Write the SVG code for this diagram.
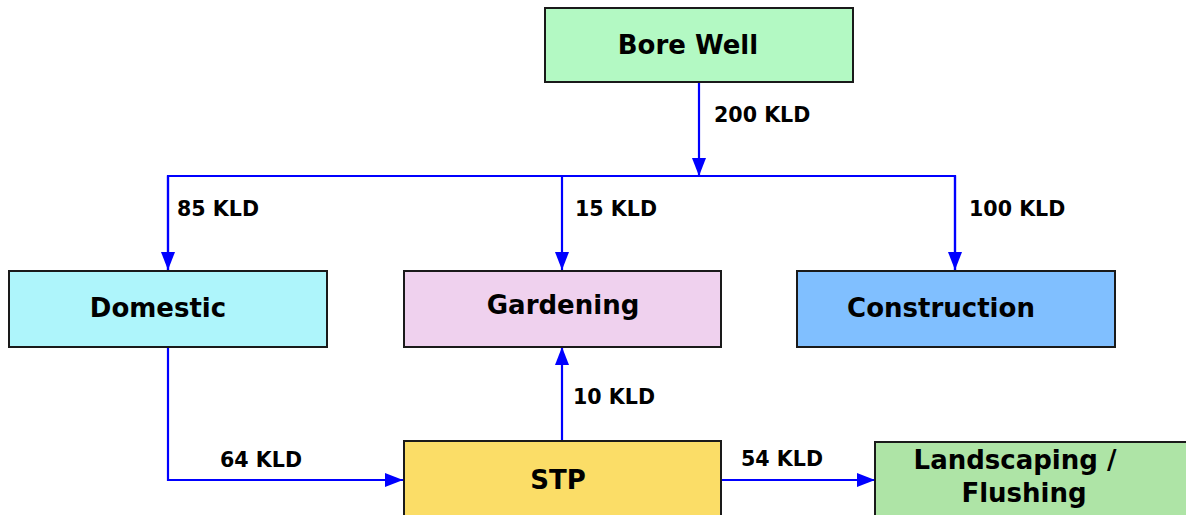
<svg xmlns="http://www.w3.org/2000/svg" width="1186" height="515" viewBox="0 0 1186 515">
<style>
.box{stroke:#1a1a1a;stroke-width:2}
.lbl{font-family:"DejaVu Sans",Verdana,sans-serif;font-weight:bold;font-size:26px;fill:#000}
.kld{font-family:"DejaVu Sans",Verdana,sans-serif;font-weight:bold;font-size:20.6px;fill:#000}
.con{fill:none;stroke:#0000ff;stroke-width:2.2}
</style>
<defs>
<marker id="ah" markerUnits="userSpaceOnUse" markerWidth="18" markerHeight="14" refX="18" refY="7" orient="auto">
<path d="M0,0 L18,7 L0,14 Z" fill="#0000ff"/>
</marker>
</defs>
<rect width="1186" height="515" fill="#ffffff"/>
<g id="connectors">
<line class="con" x1="699" y1="82" x2="699" y2="176" marker-end="url(#ah)"/>
<path class="con" d="M168,270 L168,176 L955,176 L955,270"/>
<line class="con" x1="168" y1="176" x2="168" y2="270" marker-end="url(#ah)"/>
<line class="con" x1="562" y1="176" x2="562" y2="270" marker-end="url(#ah)"/>
<line class="con" x1="955" y1="176" x2="955" y2="270" marker-end="url(#ah)"/>
<path class="con" d="M168,347 L168,480 L403,480" marker-end="url(#ah)"/>
<line class="con" x1="562" y1="441" x2="562" y2="347" marker-end="url(#ah)"/>
<line class="con" x1="721" y1="480" x2="875" y2="480" marker-end="url(#ah)"/>
<text class="kld" x="714" y="122">200 KLD</text>
<text class="kld" x="177" y="216">85 KLD</text>
<text class="kld" x="575" y="216">15 KLD</text>
<text class="kld" x="969" y="216">100 KLD</text>
<text class="kld" x="573" y="404">10 KLD</text>
<text class="kld" x="220" y="467">64 KLD</text>
<text class="kld" x="741" y="466">54 KLD</text>
</g>
<g id="borewell">
<rect class="box" x="545" y="8" width="308" height="74" fill="#b3f9c3"/>
<text class="lbl" x="688" y="54" text-anchor="middle">Bore Well</text>
</g>
<g id="domestic">
<rect class="box" x="9" y="271" width="318" height="76" fill="#aef5fb"/>
<text class="lbl" x="158" y="317" text-anchor="middle">Domestic</text>
</g>
<g id="gardening">
<rect class="box" x="404" y="271" width="317" height="76" fill="#efd1ee"/>
<text class="lbl" x="563" y="314" text-anchor="middle">Gardening</text>
</g>
<g id="construction">
<rect class="box" x="797" y="271" width="318" height="76" fill="#80bfff"/>
<text class="lbl" x="941" y="317" text-anchor="middle">Construction</text>
</g>
<g id="stp">
<rect class="box" x="404" y="441" width="317" height="80" fill="#fbdd67"/>
<text class="lbl" x="558" y="489" text-anchor="middle">STP</text>
</g>
<g id="landscaping">
<rect class="box" x="875" y="442" width="320" height="80" fill="#aee4a6"/>
<text class="lbl" x="1015" y="469" text-anchor="middle">Landscaping /</text>
<text class="lbl" x="1024" y="502" text-anchor="middle">Flushing</text>
</g>
</svg>
